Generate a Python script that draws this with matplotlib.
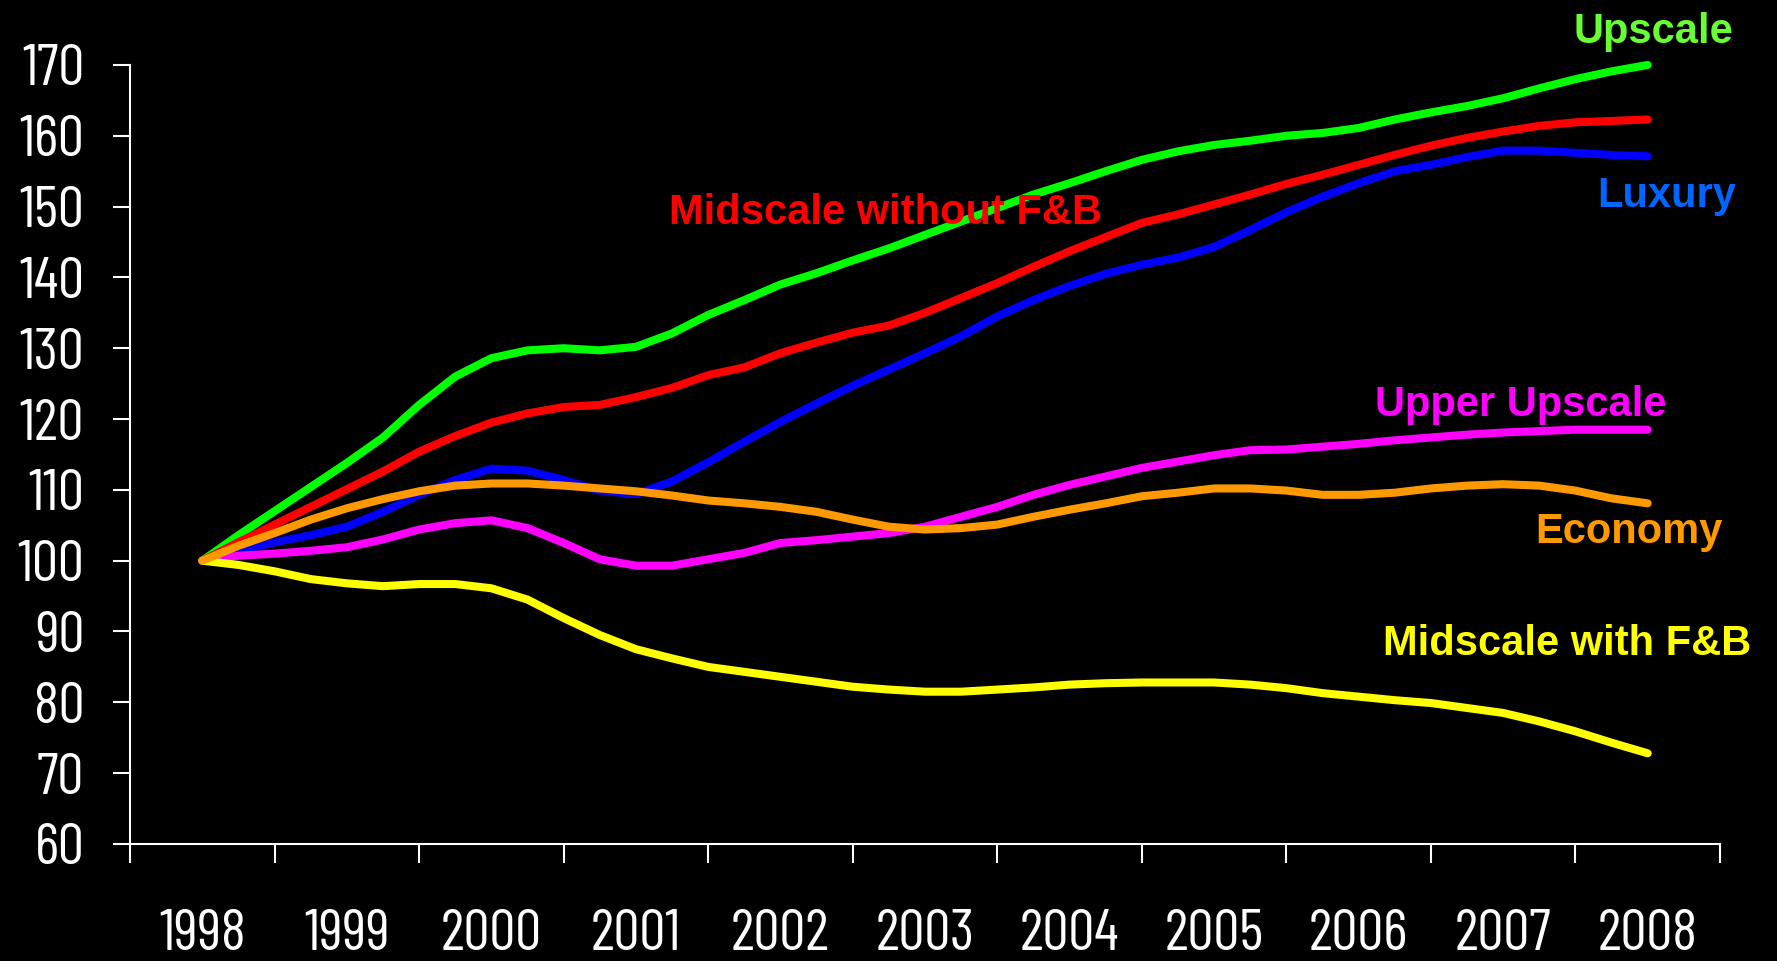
import numpy as np
import matplotlib
matplotlib.use('Agg')
import matplotlib.pyplot as plt

# quarterly index, 1998 = 100
years = [1998, 1999, 2000, 2001, 2002, 2003, 2004, 2005, 2006, 2007, 2008]

upscale = [100, 103.6, 107.0, 110.4, 113.8, 117.4, 122.0, 126.0, 128.6, 129.7, 130.0,
           129.7, 130.2, 132.1, 134.7, 136.8, 139.0, 140.6, 142.4, 144.1, 146.0,
           147.9, 149.8, 151.7, 153.3, 155.0, 156.6, 157.8, 158.7, 159.3, 160.0,
           160.4, 161.1, 162.3, 163.3, 164.2, 165.3, 166.7, 168.0, 169.1, 170.0]
mid_no_fb = [100, 102.6, 105.1, 107.6, 110.1, 112.6, 115.4, 117.6, 119.5, 120.8, 121.7,
             122.0, 123.1, 124.4, 126.2, 127.3, 129.3, 130.8, 132.2, 133.2, 135.0,
             137.1, 139.2, 141.5, 143.7, 145.7, 147.7, 148.9, 150.3, 151.7, 153.2,
             154.5, 155.9, 157.3, 158.6, 159.7, 160.6, 161.4, 161.9, 162.1, 162.3]
luxury = [100, 101.4, 102.6, 103.6, 104.8, 106.9, 109.3, 111.4, 113.0, 112.7, 111.4,
          109.9, 109.4, 111.2, 113.9, 116.8, 119.6, 122.2, 124.7, 127.0, 129.3,
          131.7, 134.5, 136.8, 138.8, 140.5, 141.8, 142.8, 144.3, 146.7, 149.2,
          151.4, 153.3, 155.0, 155.9, 157.0, 157.9, 157.9, 157.6, 157.3, 157.1]
upper_upscale = [100, 100.7, 101.0, 101.4, 101.9, 103.0, 104.4, 105.3, 105.7, 104.6, 102.5,
                 100.2, 99.3, 99.3, 100.2, 101.1, 102.5, 102.9, 103.4, 103.9, 104.8,
                 106.2, 107.6, 109.3, 110.7, 111.9, 113.1, 114.0, 114.9, 115.6, 115.7,
                 116.1, 116.5, 117.0, 117.4, 117.8, 118.1, 118.3, 118.5, 118.5, 118.5]
mid_fb = [100, 99.4, 98.5, 97.4, 96.8, 96.4, 96.7, 96.7, 96.1, 94.5, 91.9,
          89.5, 87.5, 86.2, 85.0, 84.3, 83.6, 82.9, 82.2, 81.8, 81.5,
          81.5, 81.8, 82.1, 82.5, 82.7, 82.8, 82.8, 82.8, 82.5, 82.0,
          81.3, 80.8, 80.3, 79.9, 79.2, 78.5, 77.3, 75.9, 74.3, 72.8]
economy = [100, 102.1, 103.9, 105.8, 107.4, 108.7, 109.8, 110.6, 110.9, 110.9, 110.6,
           110.2, 109.8, 109.2, 108.5, 108.1, 107.6, 106.9, 105.8, 104.8, 104.4,
           104.6, 105.1, 106.2, 107.2, 108.1, 109.1, 109.6, 110.2, 110.2, 109.9,
           109.3, 109.3, 109.6, 110.2, 110.6, 110.8, 110.6, 109.9, 108.8, 108.1]

quarters = years[0] + np.arange(len(upscale)) / 4.0

# (values, line colour, label, label colour, label x, label baseline y)
series = [
    (upscale, '#00ff00', 'Upscale', '#66ff33', 2007.49, 173.1),
    (mid_no_fb, '#ff0000', 'Midscale without F&B', '#ff0000', 2001.23, 147.6),
    (luxury, '#0000ff', 'Luxury', '#0066ff', 2007.65, 150.0),
    (upper_upscale, '#ff00ff', 'Upper Upscale', '#ff00ff', 2006.11, 120.5),
    (mid_fb, '#ffff00', 'Midscale with F&B', '#ffff00', 2006.17, 86.7),
    (economy, '#ff9900', 'Economy', '#ff9900', 2007.22, 102.5),
]

tick_font = ['Barlow Condensed', 'DejaVu Sans']
label_font = ['Liberation Sans', 'DejaVu Sans']

fig = plt.figure(figsize=(17.77, 9.61), dpi=100, facecolor='black')
ax = fig.add_axes([0.0732, 0.1218, 0.8947, 0.8106])
ax.set_facecolor('black')

for vals, col, name, tcol, tx, ty in series:
    ax.plot(quarters, vals, color=col, linewidth=5.8, solid_capstyle='round',
            solid_joinstyle='round', clip_on=False, zorder=3)
    ax.text(tx, ty, name, color=tcol, fontsize=30, fontweight='bold',
            family=label_font, ha='left', va='baseline', clip_on=False)

ax.set_xlim(years[0] - 0.5, years[-1] + 0.5)
ax.set_ylim(60, 170)

# major ticks on year boundaries, year names on unmarked minor ticks
ax.set_xticks(np.arange(years[0] - 0.5, years[-1] + 1.0, 1.0))
ax.set_xticklabels([])
ax.set_xticks(years, minor=True)
ax.set_xticklabels([str(y) for y in years], minor=True, family=tick_font,
                   fontsize=42, color='white')
ax.tick_params(axis='x', which='major', direction='out', length=14, width=1.5,
               color='white')
ax.tick_params(axis='x', which='minor', length=0, pad=47)

ax.set_yticks(np.arange(60, 171, 10))
ax.set_yticklabels([str(v) for v in range(60, 171, 10)], family=tick_font,
                   fontsize=42, color='white')
ax.tick_params(axis='y', direction='out', length=12, width=1.5, color='white', pad=21)

for side in ['top', 'right']:
    ax.spines[side].set_visible(False)
for side in ['left', 'bottom']:
    ax.spines[side].set_color('white')
    ax.spines[side].set_linewidth(1.5)

fig.savefig('out.png', dpi=100, facecolor='black')
